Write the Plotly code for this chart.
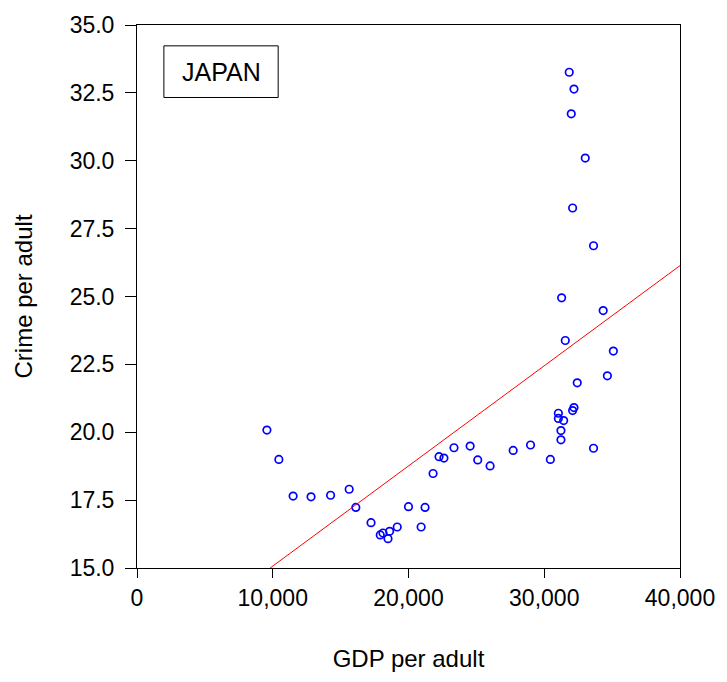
import numpy as np
import plotly.graph_objects as go

# GDP per adult (US$) and crimes per adult, Japan
gdp_per_adult = [
    9570, 10450, 11500, 12820, 14260, 15630, 16120, 17240, 17920, 18120,
    18490, 18610, 19170, 20000, 20930, 21220, 21810, 22250, 22610, 23350,
    24540, 25100, 26010, 27710, 28990, 30450, 31040, 31040, 31430, 31230,
    31230, 33630, 32090, 32190, 32430, 34650, 35090, 31550, 34340, 31280,
    33630, 32090, 33020, 31990, 32190, 31840,
]
crime_per_adult = [
    20.08, 19.00, 17.65, 17.62, 17.68, 17.90, 17.23, 16.67, 16.22, 16.29,
    16.08, 16.35, 16.51, 17.26, 16.51, 17.23, 18.48, 19.10, 19.05, 19.43,
    19.49, 18.98, 18.76, 19.33, 19.53, 19.00, 20.70, 20.51, 20.43, 20.06,
    19.72, 19.41, 20.80, 20.91, 21.82, 22.08, 22.99, 23.38, 24.48, 24.95,
    26.87, 28.26, 30.10, 31.73, 32.64, 33.26,
]

x_range = [0, 40000]
y_range = [15, 35]
x_ticks = [0, 10000, 20000, 30000, 40000]
y_ticks = [15.0, 17.5, 20.0, 22.5, 25.0, 27.5, 30.0, 32.5, 35.0]

# least-squares regression line
slope, intercept = np.polyfit(gdp_per_adult, crime_per_adult, 1)
fit_x = np.array(x_range, dtype=float)
fit_y = intercept + slope * fit_x

font_family = "Liberation Sans, Arial, sans-serif"

fig = go.Figure()
fig.add_trace(go.Scatter(
    x=gdp_per_adult, y=crime_per_adult, mode="markers",
    marker=dict(symbol="circle-open", size=7.5, color="#0000FF",
                line=dict(width=1.7, color="#0000FF")),
    showlegend=False,
))
fig.add_trace(go.Scatter(
    x=fit_x, y=fit_y, mode="lines",
    line=dict(color="#FF0000", width=1),
    showlegend=False,
))

fig.update_layout(
    width=727, height=682,
    margin=dict(l=137, r=41, t=18, b=114),
    paper_bgcolor="white", plot_bgcolor="white",
    font=dict(family=font_family, size=22, color="black"),
    xaxis=dict(
        range=x_range, tickvals=x_ticks, tickformat=",d",
        showgrid=False, zeroline=False,
        showline=True, linecolor="black", linewidth=1, mirror=True,
        ticks="outside", ticklen=9, tickwidth=1, tickcolor="black",
        tickfont=dict(size=23),
        title=dict(text="GDP per adult", font=dict(size=24), standoff=40),
    ),
    yaxis=dict(
        range=y_range, tickvals=y_ticks, tickformat=".1f",
        showgrid=False, zeroline=False,
        showline=True, linecolor="black", linewidth=1, mirror=True,
        ticks="outside", ticklen=11, tickwidth=1, tickcolor="black",
        tickfont=dict(size=23), ticklabelstandoff=6,
        title=dict(text="Crime per adult", font=dict(size=24), standoff=30),
    ),
    shapes=[dict(
        type="rect", xref="paper", yref="paper",
        x0=0.0495, x1=0.26, y0=0.8665, y1=0.9616,
        line=dict(color="black", width=1), fillcolor="white",
    )],
    annotations=[dict(
        text="JAPAN", xref="paper", yref="paper",
        x=0.155, y=0.914, xanchor="center", yanchor="middle",
        showarrow=False, font=dict(size=25, color="black"),
    )],
)

fig.write_html("out.html")
